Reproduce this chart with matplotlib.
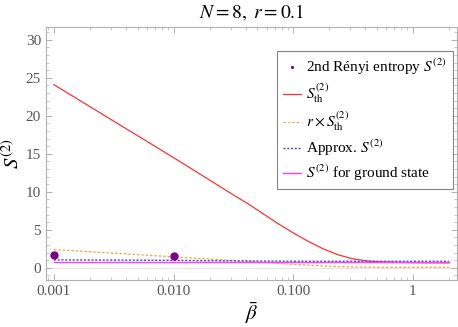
import numpy as np
import matplotlib
matplotlib.use("Agg")
import matplotlib.pyplot as plt
from matplotlib.ticker import FixedLocator, MultipleLocator, NullFormatter

plt.rcParams['mathtext.fontset'] = 'stix'
plt.rcParams['font.family'] = ['Liberation Serif', 'DejaVu Serif']

# beta values for the curves
beta = [0.001, 0.00316, 0.01, 0.0316, 0.0422, 0.0562, 0.075, 0.1, 0.133, 0.178, 0.237,
        0.316, 0.422, 0.562, 0.75, 1.0, 1.41, 2.0]
s_th = [24.1, 19.3, 14.5, 9.6, 8.4, 7.1, 5.8, 4.6, 3.5, 2.5, 1.72,
        1.17, 0.9, 0.78, 0.72, 0.68, 0.66, 0.65]
r_s_th = [2.41, 1.93, 1.45, 0.96, 0.84, 0.71, 0.58, 0.46, 0.35, 0.25, 0.172,
          0.117, 0.09, 0.078, 0.072, 0.068, 0.066, 0.065]
approx = [1.05, 1.02, 0.98, 0.92, 0.91, 0.89, 0.88, 0.87, 0.86, 0.86, 0.86,
          0.86, 0.86, 0.86, 0.86, 0.86, 0.86, 0.86]
ground = [0.74] * len(beta)

# Renyi entropy sample points
beta_pts = [0.001, 0.01]
s2_pts = [1.65, 1.5]

fig = plt.figure(figsize=(4.58, 3.27), dpi=100)
ax = fig.add_axes([0.1004, 0.1437, 0.897, 0.774])

ax.axhline(0, color='#e6e6e6', lw=0.8, zorder=0)
ax.plot(beta, s_th, color='#ff3333', lw=0.9, label=r'$S^{(2)}_{\mathrm{th}}$')
ax.plot(beta, r_s_th, color='#ffa040', lw=0.9, ls=(0, (2, 1.5)), label=r'$r\times S^{(2)}_{\mathrm{th}}$')
ax.plot(beta, approx, color='#4040ff', lw=1.0, ls=(0, (1.5, 1.2)), label=r'Approx. $S^{(2)}$')
ax.plot(beta, ground, color='#ff40ff', lw=1.0, label=r'$S^{(2)}$ for ground state')
ax.plot(beta_pts, s2_pts, 'o', color='#800080', ms=5, ls='none', label=r'2nd Rényi entropy $S^{(2)}$')

ax.set_xscale('log')
ax.set_xlim(0.000858, 2.33)
ax.set_ylim(-1.6, 31.7)

ax.xaxis.set_major_locator(FixedLocator([0.001, 0.01, 0.1, 1]))
ax.set_xticklabels(['0.001', '0.010', '0.100', '1'])
minors = [m * 10.0**e for e in range(-4, 1) for m in range(2, 10)]
ax.xaxis.set_minor_locator(FixedLocator(minors))
ax.xaxis.set_minor_formatter(NullFormatter())
ax.yaxis.set_major_locator(MultipleLocator(5))
ax.yaxis.set_minor_locator(MultipleLocator(1))

for s in ax.spines.values():
    s.set_color('#b0b0b0')
    s.set_linewidth(0.8)
ax.tick_params(which='both', direction='in', top=True, right=True, color='#b0b0b0',
               labelcolor='#555555', labelsize=11)
ax.tick_params(which='major', length=4, width=0.7)
ax.tick_params(which='minor', length=2, width=0.5)

ax.set_title(r'$N=8,\ r=0.1$', fontsize=14, pad=6)
ax.set_xlabel(r'$\bar{\beta}$', fontsize=15, labelpad=2)
ax.set_ylabel(r'$S^{(2)}$', fontsize=15, labelpad=1)

h, l = ax.get_legend_handles_labels()
order = [4, 0, 1, 2, 3]
leg = ax.legend([h[i] for i in order], [l[i] for i in order], loc='upper left',
                bbox_to_anchor=(0.562, 0.905), fontsize=11, frameon=True, fancybox=False,
                edgecolor='#666666', handlelength=1.2, handletextpad=0.3,
                borderpad=0.4, borderaxespad=0, labelspacing=0.3, markerscale=0.25)
leg.get_frame().set_linewidth(0.8)

fig.savefig('out.png', dpi=100)
